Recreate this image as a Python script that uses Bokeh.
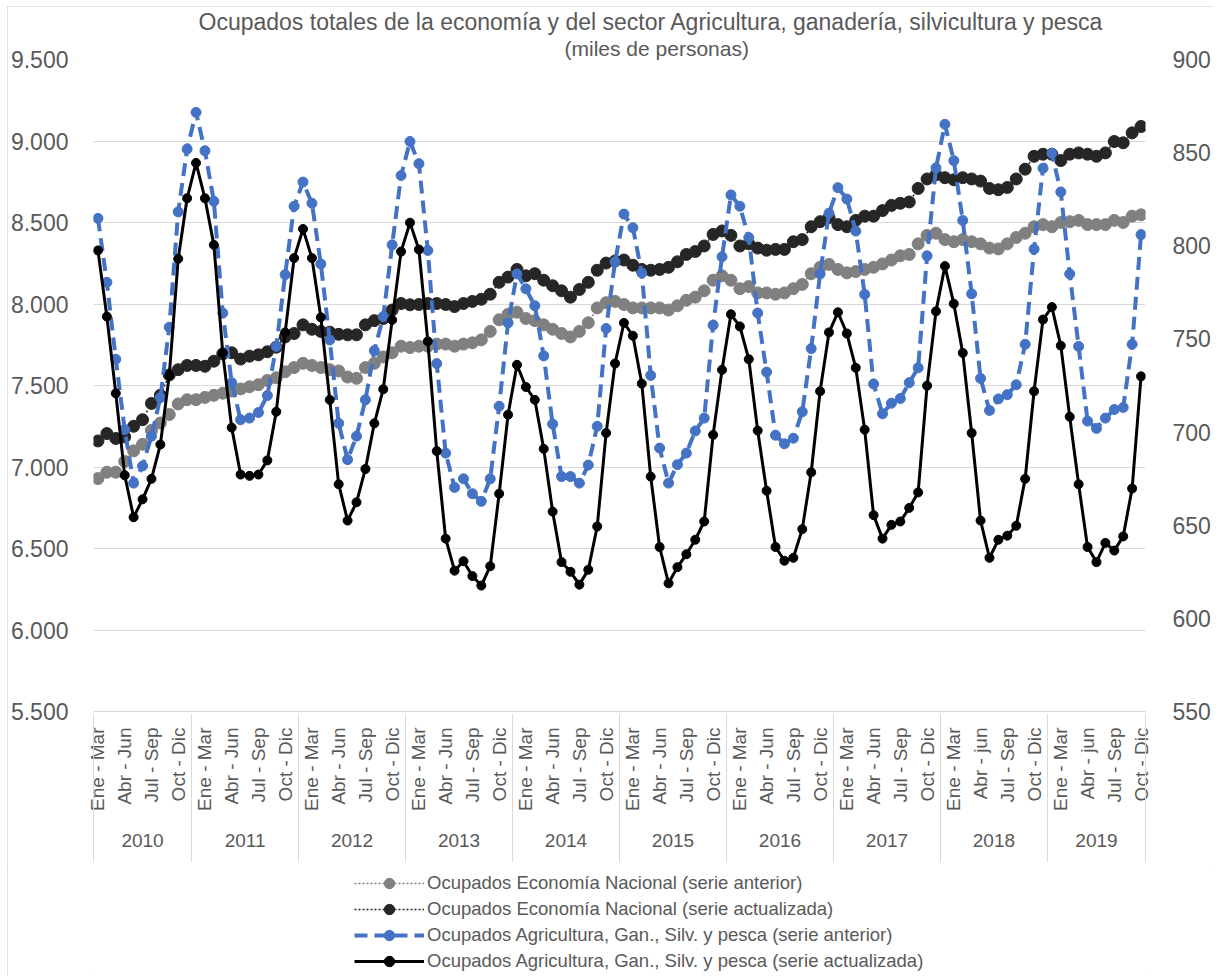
import math
from bokeh.plotting import figure
from bokeh.layouts import column
from bokeh.models import Range1d, LinearAxis, FixedTicker, Legend, LegendItem, Title
from bokeh.embed import file_html
from bokeh.resources import INLINE

FONT = "Liberation Sans"
TXT = "#595959"
GRID = "#d9d9d9"

# ---------------- categories ----------------
years = ["2010", "2011", "2012", "2013", "2014", "2015", "2016", "2017", "2018", "2019"]
year_sizes = [11, 12, 12, 12, 12, 12, 12, 12, 12, 11]
months = ["Ene", "Feb", "Mar", "Abr", "May", "Jun", "Jul", "Ago", "Sep", "Oct", "Nov", "Dic"]
shown_quarters = ["Ene - Mar", "Abr - Jun", "Jul - Sep", "Oct - Dic"]
lowercase_jun_years = ["2018", "2019"]

# rolling quarters: 2010 starts at Ene-Mar, later years start at Dic-Feb
periodos = []
period_year = []
for y, n in zip(years, year_sizes):
    start = 0 if y == "2010" else 11
    for k in range(n):
        m0 = (start + k) % 12
        periodos.append(months[m0] + " - " + months[(m0 + 2) % 12])
        period_year.append(y)

# ---------------- series values ----------------
ocup_nac_anterior = [
    6929, 6968, 6968, 7034, 7099, 7139, 7225, 7270, 7322, 7387, 7413,
    7413, 7427, 7440, 7453, 7466, 7479, 7492, 7505, 7531, 7548, 7584, 7610,
    7636, 7623, 7610, 7597, 7589, 7552, 7544, 7610, 7636, 7675, 7701, 7741,
    7733, 7741, 7741, 7754, 7754, 7741, 7754, 7762, 7780, 7832, 7903, 7937,
    7950, 7911, 7898, 7872, 7845, 7819, 7798, 7832, 7885, 7976, 8008, 8016,
    7997, 7976, 7976, 7976, 7976, 7963, 7989, 8023, 8042, 8081, 8146, 8173,
    8146, 8094, 8107, 8068, 8068, 8060, 8068, 8094, 8120, 8186, 8225, 8243,
    8212, 8191, 8199, 8212, 8225, 8246, 8270, 8296, 8304, 8369, 8421, 8434,
    8395, 8382, 8395, 8382, 8369, 8343, 8338, 8369, 8408, 8434, 8474, 8487,
    8474, 8500, 8505, 8513, 8487, 8487, 8487, 8513, 8500, 8539, 8547,
]
ocup_nac_actualizada = [
    7160, 7205, 7175, 7185, 7250, 7290, 7390, 7440, 7565, 7597, 7623,
    7623, 7618, 7649, 7694, 7701, 7662, 7680, 7688, 7707, 7735, 7798, 7819,
    7872, 7845, 7832, 7827, 7814, 7811, 7811, 7872, 7898, 7911, 7963, 8003,
    7995, 7997, 8003, 8003, 7997, 7984, 8003, 8016, 8029, 8060, 8133, 8165,
    8212, 8173, 8186, 8146, 8112, 8081, 8042, 8089, 8133, 8207, 8251, 8264,
    8270, 8238, 8212, 8207, 8212, 8225, 8259, 8304, 8322, 8356, 8427, 8448,
    8421, 8356, 8369, 8343, 8330, 8335, 8335, 8382, 8395, 8474, 8505, 8530,
    8487, 8474, 8513, 8539, 8539, 8573, 8605, 8618, 8626, 8709, 8767, 8793,
    8775, 8762, 8775, 8767, 8754, 8709, 8701, 8715, 8767, 8827, 8906, 8919,
    8919, 8880, 8919, 8927, 8919, 8906, 8927, 8997, 8989, 9050, 9089,
]
ocup_agro_anterior = [
    814.7, 780.4, 739.1, 701.3, 672.6, 681.8, 697.8, 718.5, 756.3, 818.2, 851.9,
    871.6, 851.0, 823.9, 763.9, 726.5, 706.6, 707.5, 710.5, 719.6, 746.0, 784.5, 821.2,
    834.2, 822.8, 790.2, 749.4, 704.7, 685.2, 697.8, 717.3, 743.7, 762.0, 800.5, 837.7,
    856.0, 844.1, 797.5, 736.8, 688.7, 670.3, 674.9, 666.9, 662.8, 674.9, 713.9, 758.6,
    784.9, 776.9, 767.8, 740.9, 704.3, 676.1, 676.1, 672.6, 682.3, 703.1, 755.6, 791.4,
    817.0, 809.7, 785.4, 730.4, 691.4, 672.6, 682.5, 688.7, 700.6, 707.5, 757.4, 794.1,
    827.3, 821.2, 804.4, 763.9, 732.2, 698.3, 693.7, 696.7, 710.9, 744.8, 784.9, 817.5,
    831.2, 825.1, 807.9, 773.9, 725.8, 709.8, 715.5, 718.0, 726.5, 734.5, 794.6, 841.8,
    865.2, 845.7, 813.6, 774.2, 728.8, 711.6, 717.8, 720.1, 725.4, 747.1, 798.2, 841.6,
    849.6, 828.9, 784.9, 746.0, 705.9, 702.0, 707.5, 712.1, 713.2, 747.1, 806.0,
]
ocup_agro_actualizada = [
    797.5, 762.0, 720.8, 676.8, 654.3, 663.9, 674.9, 693.3, 730.6, 793.0, 825.5,
    844.5, 825.5, 800.5, 742.5, 702.4, 677.2, 676.5, 677.2, 684.8, 710.9, 753.5, 793.4,
    809.0, 793.4, 761.6, 717.3, 672.0, 652.5, 662.3, 680.2, 704.7, 723.0, 760.2, 796.9,
    812.4, 798.0, 748.7, 689.8, 642.8, 625.6, 630.7, 622.7, 617.6, 628.0, 666.9, 709.3,
    736.1, 724.2, 717.3, 691.0, 657.3, 630.2, 625.0, 618.1, 626.1, 649.3, 699.5, 736.8,
    758.6, 751.7, 726.0, 676.1, 638.3, 618.8, 627.5, 634.4, 642.2, 652.0, 698.5, 733.4,
    763.2, 756.7, 739.1, 700.8, 668.5, 638.3, 630.9, 632.5, 647.9, 678.4, 721.9, 753.5,
    764.3, 752.9, 734.5, 701.3, 655.4, 642.8, 650.2, 652.0, 659.3, 667.6, 724.9, 764.8,
    789.1, 768.9, 742.5, 699.5, 652.5, 632.5, 642.2, 644.4, 649.7, 674.9, 721.9, 760.4,
    767.1, 746.4, 708.2, 672.0, 638.3, 630.2, 640.5, 636.4, 644.0, 669.7, 729.9,
]

left_ticks = [5500, 6000, 6500, 7000, 7500, 8000, 8500, 9000, 9500]
left_tick_labels = ["5.500", "6.000", "6.500", "7.000", "7.500", "8.000", "8.500", "9.000", "9.500"]
right_ticks = [550, 600, 650, 700, 750, 800, 850, 900]

series_names = [
    "Ocupados Economía Nacional (serie anterior)",
    "Ocupados Economía Nacional (serie actualizada)",
    "Ocupados Agricultura, Gan., Silv. y pesca (serie anterior)",
    "Ocupados Agricultura, Gan., Silv. y pesca (serie actualizada)",
]
title_line1 = "Ocupados totales de la economía y del sector Agricultura, ganadería, silvicultura  y pesca"
title_line2 = "(miles de personas)"

# series styles: (color, line width, dash, marker size)
styles_ = [
    ("#808080", 1.5, "2 2", 12),
    ("#262626", 1.5, "2 2", 12),
    ("#4472C4", 4, "13 7", 10),
    ("#000000", 3, "solid", 9),
]

# ---------------- derived positions ----------------
n = len(periodos)
x = list(range(n))
tick_pos, tick_lab = [], []
for i, (pname, y) in enumerate(zip(periodos, period_year)):
    if pname in shown_quarters:
        tick_pos.append(i)
        lab = pname
        if pname == "Abr - Jun" and y in lowercase_jun_years:
            lab = "Abr - jun"
        tick_lab.append(lab)

year_centers, bounds = [], [-0.499]
c = 0
for s in year_sizes:
    year_centers.append(c - 0.5 + s / 2.0)
    c += s
    bounds.append(c - 0.5)
bounds[-1] = n - 0.501

# ---------------- main figure ----------------
# layout placed at page (7, 6); frame at x 88..1148, y 58..711
p = figure(width=1206, height=862, output_backend="svg", toolbar_location=None,
           x_range=Range1d(-0.5, n - 0.5), y_range=Range1d(5500, 9500),
           min_border_left=81, min_border_right=65, min_border_top=52,
           min_border_bottom=157, background_fill_color="white",
           border_fill_color="white")
p.outline_line_color = None
p.extra_y_ranges = {"agro": Range1d(550, 900)}

# titles (left aligned with pixel offsets from the frame's left edge)
t2 = Title(text=title_line2, align="left", offset=471, text_font=FONT,
           text_font_size="21px", text_font_style="normal", text_color=TXT, standoff=0,
           text_line_height=1.0)
t1 = Title(text=title_line1, align="left", offset=105, text_font=FONT,
           text_font_size="23px", text_font_style="normal", text_color=TXT, standoff=0,
           text_line_height=1.0)
p.add_layout(t2, "above")
p.add_layout(t1, "above")

# left axis
ya = p.yaxis[0]
ya.ticker = FixedTicker(ticks=left_ticks)
ya.major_label_overrides = {t: l for t, l in zip(left_ticks, left_tick_labels)}
ya.axis_line_color = None
ya.major_tick_line_color = None
ya.minor_tick_line_color = None
ya.major_label_standoff = 19
ya.major_label_text_font = FONT
ya.major_label_text_font_size = "23px"
ya.major_label_text_color = TXT

ra = LinearAxis(y_range_name="agro", ticker=FixedTicker(ticks=right_ticks))
ra.axis_line_color = None
ra.major_tick_line_color = None
ra.minor_tick_line_color = None
ra.major_label_standoff = 21
ra.major_label_text_font = FONT
ra.major_label_text_font_size = "23px"
ra.major_label_text_color = TXT
p.add_layout(ra, "right")

p.xgrid.visible = False
p.ygrid.grid_line_color = GRID
p.ygrid.grid_line_width = 1

# category axis (quarters)
xa = p.xaxis[0]
xa.ticker = FixedTicker(ticks=tick_pos)
xa.major_label_overrides = {t: l for t, l in zip(tick_pos, tick_lab)}
xa.major_label_orientation = math.pi / 2
xa.major_tick_line_color = None
xa.minor_tick_line_color = None
xa.axis_line_color = GRID
xa.axis_line_width = 1
xa.major_label_standoff = 10
xa.major_label_text_font = FONT
xa.major_label_text_font_size = "19px"
xa.major_label_text_color = TXT

# year axis
ya2 = LinearAxis(ticker=FixedTicker(ticks=year_centers))
ya2.major_label_overrides = {t: l for t, l in zip(year_centers, years)}
ya2.axis_line_color = None
ya2.major_tick_line_color = None
ya2.minor_tick_line_color = None
ya2.major_label_standoff = 14
ya2.major_label_text_font = FONT
ya2.major_label_text_font_size = "19px"
ya2.major_label_text_color = TXT
p.add_layout(ya2, "below")

# separators axis (minor ticks drawn as long vertical group lines)
sep = LinearAxis(ticker=FixedTicker(ticks=[], minor_ticks=bounds))
sep.axis_line_color = None
sep.major_tick_line_color = None
sep.major_label_text_font_size = "0px"
sep.major_label_standoff = 0
sep.minor_tick_line_color = GRID
sep.minor_tick_line_width = 1
sep.minor_tick_in = 135
sep.minor_tick_out = 12
p.add_layout(sep, "below")

# ---------------- series ----------------
values = [ocup_nac_anterior, ocup_nac_actualizada, ocup_agro_anterior, ocup_agro_actualizada]
ranges = ["default", "default", "agro", "agro"]
for vals, rng, (col, lw, dash, ms) in zip(values, ranges, styles_):
    p.line(x, vals, y_range_name=rng, line_color=col, line_width=lw, line_dash=dash)
    p.scatter(x, vals, y_range_name=rng, size=ms, fill_color=col, line_color=col)

# ---------------- legend strip ----------------
pl = figure(width=1206, height=108, output_backend="svg", toolbar_location=None,
            x_range=Range1d(0, 1), y_range=Range1d(0, 1),
            x_axis_location=None, y_axis_location=None,
            min_border_left=0, min_border_right=0, min_border_top=0, min_border_bottom=0,
            background_fill_color="white", border_fill_color="white")
pl.outline_line_color = None
pl.xgrid.visible = False
pl.ygrid.visible = False
items = []
for name, (col, lw, dash, ms) in zip(series_names, styles_):
    # legend-only renderers: single point placed outside the visible range
    lr = pl.line([-5, -4], [-5, -5], line_color=col, line_width=lw, line_dash=dash)
    sr = pl.scatter([-5], [-5], size=ms, fill_color=col, line_color=col)
    items.append(LegendItem(label=name, renderers=[lr, sr]))
legend = Legend(items=items, location=(261, 2), orientation="vertical")
legend.label_text_font = FONT
legend.label_text_font_size = "18.5px"
legend.label_text_color = TXT
legend.glyph_width = 70
legend.glyph_height = 26
legend.label_height = 26
legend.label_standoff = 3
legend.spacing = 0
legend.padding = 0
legend.margin = 0
legend.border_line_color = None
legend.background_fill_alpha = 0
pl.add_layout(legend, "center")

layout = column(p, pl, spacing=0,
                styles={"margin-left": "7px", "margin-top": "6px",
                        "outline": "1px solid #d9d9d9", "outline-offset": "-1px"})

open("out.html", "w").write(file_html(layout, INLINE))
